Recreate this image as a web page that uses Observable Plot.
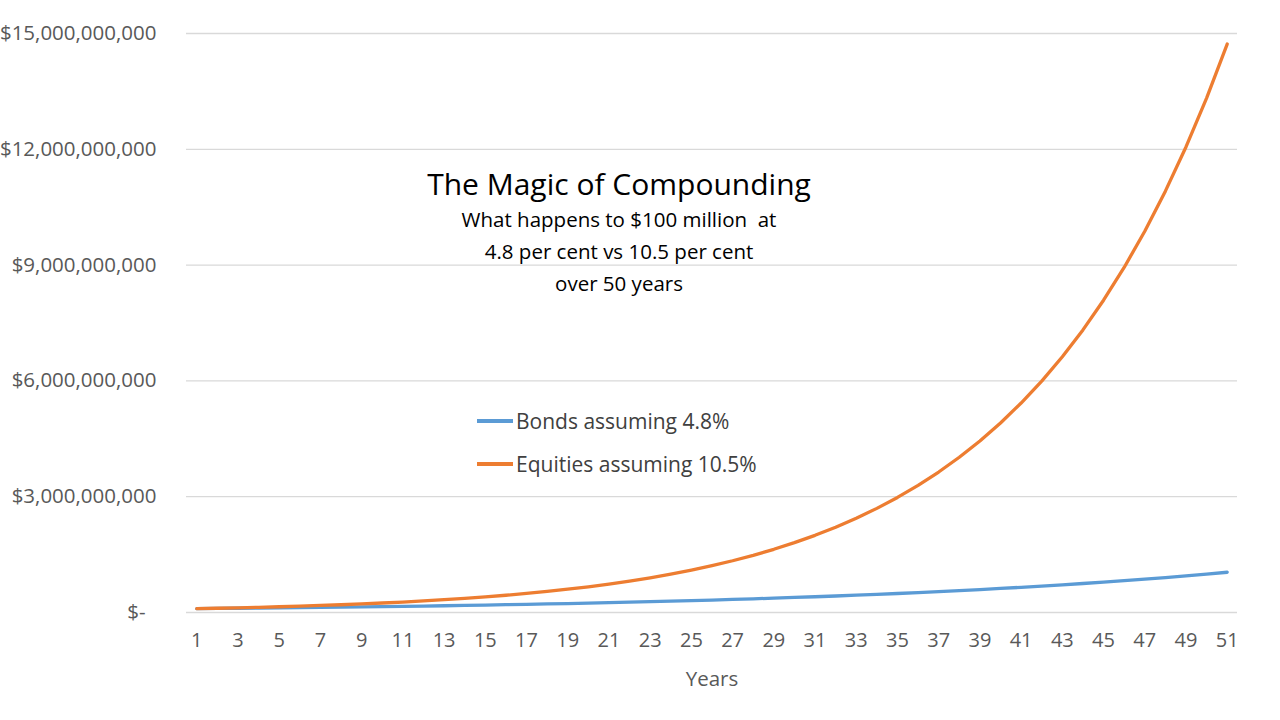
<!DOCTYPE html>
<html>
<head>
<meta charset="utf-8">
<script src="https://cdn.jsdelivr.net/npm/d3@7"></script>
<script src="https://cdn.jsdelivr.net/npm/@observablehq/plot@0.6"></script>
<style>
  html, body { margin: 0; padding: 0; background: #fff; }
  #wrap { position: relative; width: 1280px; height: 720px; overflow: hidden; font-family: "Open Sans", sans-serif; }
  #wrap svg { position: absolute; left: 0; top: 0; overflow: hidden; }
  .ov { position: absolute; white-space: pre; color: #000; }
  .title { left: 0; width: 1238px; text-align: center; top: 167px; font-size: 30px; line-height: 34px; }
  .sub { left: 0; width: 1238px; text-align: center; font-size: 20.5px; line-height: 30px; }
  .leg { font-size: 21px; line-height: 30px; color: #404040; display: flex; align-items: center; }
  .leg span.sw { display: inline-block; width: 36px; height: 3.5px; margin-right: 3px; }
</style>
</head>
<body>
<div id="wrap"></div>
<script>
// Years (category axis)
const years = d3.range(1, 52);
// Values in $ millions
const bondsMillions = [
  100.0, 104.8, 109.8, 115.1, 120.6, 126.4, 132.5, 138.8, 145.5, 152.5,
  159.8, 167.5, 175.5, 183.9, 192.8, 202.0, 211.7, 221.9, 232.5, 243.7,
  255.4, 267.7, 280.5, 294.0, 308.1, 322.9, 338.4, 354.6, 371.6, 389.5,
  408.2, 427.8, 448.3, 469.8, 492.4, 516.0, 540.8, 566.7, 593.9, 622.4,
  652.3, 683.6, 716.4, 750.8, 786.9, 824.6, 864.2, 905.7, 949.2, 994.7,
  1042.5
];
const equitiesMillions = [
  100.0, 110.5, 122.1, 134.9, 149.1, 164.7, 182.0, 201.2, 222.3, 245.6,
  271.4, 299.9, 331.4, 366.2, 404.6, 447.1, 494.1, 546.0, 603.3, 666.6,
  736.6, 814.0, 899.4, 993.9, 1098.2, 1213.6, 1341.0, 1481.8, 1637.4, 1809.3,
  1999.3, 2209.2, 2441.1, 2697.5, 2980.7, 3293.7, 3639.5, 4021.7, 4443.9, 4910.5,
  5426.2, 5995.9, 6625.5, 7321.1, 8089.9, 8939.3, 9877.9, 10915.1, 12061.2, 13327.6,
  14727.0
];
const seriesNames = ["Bonds assuming 4.8%", "Equities assuming 10.5%"];
const seriesColors = ["#5B9BD5", "#ED7D31"];
const yTicks = [3e9, 6e9, 9e9, 12e9, 15e9];
const xTicks = d3.range(1, 52, 2);
const titleText = "The Magic of Compounding";
const subtitleLines = ["What happens to $100 million  at", "4.8 per cent vs 10.5 per cent", "over 50 years"];
const xLabel = "Years";

const data = [];
years.forEach((yr, i) => {
  data.push({ year: yr, value: bondsMillions[i] * 1e6, series: seriesNames[0] });
  data.push({ year: yr, value: equitiesMillions[i] * 1e6, series: seriesNames[1] });
});

const fmt = d3.format(",");
const chart = Plot.plot({
  width: 1280,
  height: 720,
  marginLeft: 186,
  marginRight: 43,
  marginTop: 33,
  marginBottom: 108,
  style: { fontFamily: "Open Sans, sans-serif", fontSize: "20px", color: "#595959", background: "transparent" },
  x: { domain: [0.5, 51.5] },
  y: { domain: [0, 15e9] },
  color: { domain: seriesNames, range: seriesColors },
  marks: [
    Plot.gridY([0, ...yTicks], { stroke: "#d9d9d9", strokeOpacity: 1, strokeWidth: 1.3 }),
    Plot.axisY(yTicks, { tickSize: 0, tickPadding: 30, tickFormat: d => "$" + fmt(d), fill: "#595959", fontSize: 20.5, label: null }),
    Plot.axisY([0], { tickSize: 0, tickPadding: 41, tickFormat: () => "$-", fill: "#595959", fontSize: 20.5, label: null }),
    Plot.axisX(xTicks, { tickSize: 0, tickPadding: 20, tickFormat: d => String(d), fill: "#595959", fontSize: 20, label: null }),
    Plot.text([xLabel], { frameAnchor: "bottom", dy: 73, fill: "#595959", fontSize: 20.5 }),
    Plot.line(data, { x: "year", y: "value", z: "series", stroke: "series", strokeWidth: 3.3 })
  ]
});

const wrap = document.getElementById("wrap");
wrap.appendChild(chart);

const t = document.createElement("div");
t.className = "ov title";
t.textContent = titleText;
wrap.appendChild(t);
subtitleLines.forEach((s, i) => {
  const d = document.createElement("div");
  d.className = "ov sub";
  d.style.top = (204 + i * 32) + "px";
  d.textContent = s;
  wrap.appendChild(d);
});
seriesNames.forEach((s, i) => {
  const d = document.createElement("div");
  d.className = "ov leg";
  d.style.left = "477px";
  d.style.top = (406 + i * 43) + "px";
  const sw = document.createElement("span");
  sw.className = "sw";
  sw.style.background = seriesColors[i];
  d.appendChild(sw);
  d.appendChild(document.createTextNode(s));
  wrap.appendChild(d);
});
</script>
</body>
</html>
